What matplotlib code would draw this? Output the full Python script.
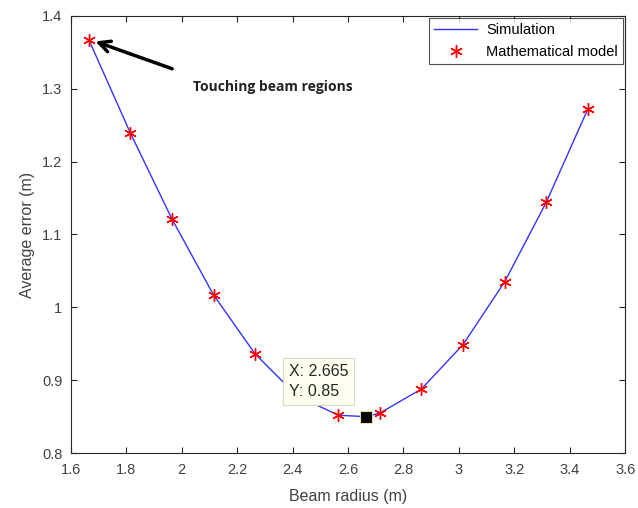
import matplotlib.pyplot as plt
import numpy as np

plt.rcParams['font.family'] = ['Liberation Sans', 'DejaVu Sans']

# mathematical model points
x_model = [1.665, 1.815, 1.965, 2.115, 2.265, 2.565, 2.715, 2.865, 3.015, 3.165, 3.315, 3.465]
y_model = [1.367, 1.239, 1.121, 1.017, 0.936, 0.852, 0.855, 0.888, 0.949, 1.035, 1.144, 1.272]

# simulation curve
x_sim = [1.665, 1.815, 1.965, 2.115, 2.265, 2.415, 2.565, 2.665, 2.715, 2.865, 3.015, 3.165, 3.315, 3.465]
y_sim = [1.367, 1.239, 1.121, 1.017, 0.936, 0.879, 0.852, 0.850, 0.855, 0.888, 0.949, 1.035, 1.144, 1.272]

tip_x, tip_y = 2.665, 0.85

xticks = np.arange(1.6, 3.61, 0.2)
yticks = np.arange(0.8, 1.41, 0.1)

fig = plt.figure(figsize=(6.38, 5.08), dpi=100)
ax = fig.add_axes([0.111, 0.108, 0.869, 0.861])

ax.plot(x_sim, y_sim, color='#3333ff', lw=1, label='Simulation', zorder=2)
ax.plot(x_model, y_model, ls='none', marker=(6, 2, 0), ms=9, mew=1.0,
        color='red', label='Mathematical model', zorder=3)

ax.set_xlim(1.6, 3.6)
ax.set_ylim(0.8, 1.4)
ax.set_xticks(xticks)
ax.set_xticklabels(['1.6', '1.8', '2', '2.2', '2.4', '2.6', '2.8', '3', '3.2', '3.4', '3.6'])
ax.set_yticks(yticks)
ax.set_yticklabels(['0.8', '0.9', '1', '1.1', '1.2', '1.3', '1.4'])
ax.tick_params(direction='in', top=True, right=True, length=4, width=0.8,
               labelsize=10.5, labelcolor='#404040', color='#262626')
ax.tick_params(axis='x', pad=7)
ax.tick_params(axis='y', pad=6)
for s in ax.spines.values():
    s.set_color('#262626')
    s.set_linewidth(0.8)

ax.set_xlabel('Beam radius (m)', fontsize=11.5, color='#404040', labelpad=9)
ax.set_ylabel('Average error (m)', fontsize=11.5, color='#404040', labelpad=5)

leg = ax.legend(loc='upper right', fontsize=10.5, frameon=True, fancybox=False,
                borderaxespad=0.15, handlelength=3.0, borderpad=0.35,
                labelspacing=0.55, handletextpad=0.6)
leg.get_frame().set_edgecolor('#262626')
leg.get_frame().set_linewidth(0.8)

# arrow + note
ax.annotate('', xy=(1.679, 1.366), xytext=(1.975, 1.326),
            arrowprops=dict(arrowstyle='->', lw=2.5, color='black',
                            mutation_scale=20))
ax.text(2.04, 1.302, 'Touching beam regions', fontsize=10, fontweight='bold',
        family='Open Sans', color='#222222', va='center', ha='left')

# data tip
ax.plot([tip_x], [tip_y], marker='s', ms=9, color='black', mec='#e8e0a0',
        mew=0.8, zorder=5)
ax.text(2.386, 0.898, 'X: 2.665\nY: 0.85', fontsize=11.5, color='#262626',
        va='center', ha='left', linespacing=1.45, zorder=6,
        bbox=dict(boxstyle='square,pad=0.35', fc='#fffff0', ec='#d8d8c8', lw=0.8))

fig.savefig('out.png', dpi=100)
